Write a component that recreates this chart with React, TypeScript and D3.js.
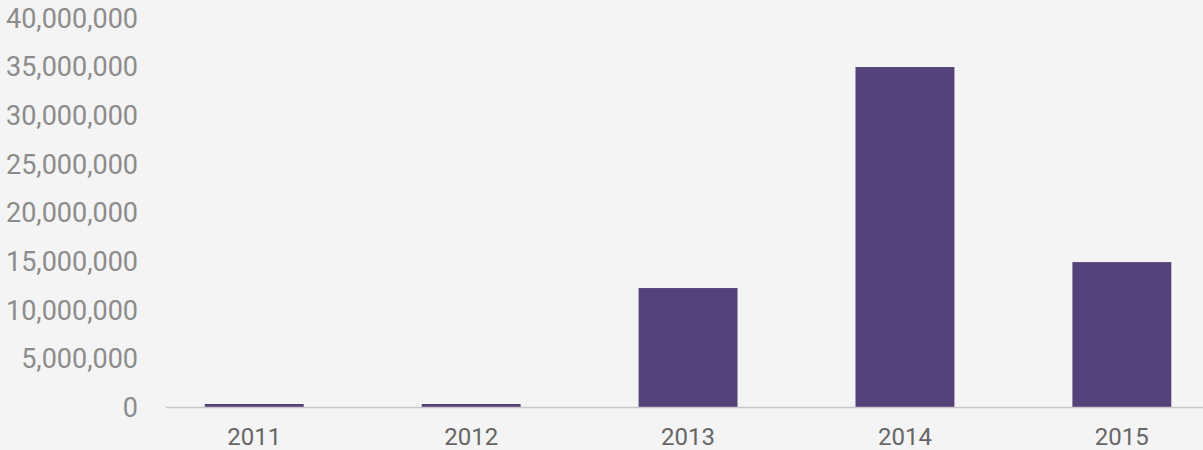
import { useRef, useEffect } from 'react';
import * as d3 from 'd3';

const years = ['2011', '2012', '2013', '2014', '2015'];
const values = [360000, 360000, 12280000, 35000000, 14950000];
const yTicks = [0, 5000000, 10000000, 15000000, 20000000, 25000000, 30000000, 35000000, 40000000];

const width = 1203;
const height = 450;

export default function App() {
  const svgRef = useRef<SVGSVGElement>(null);

  useEffect(() => {
    const svg = d3.select(svgRef.current);
    svg.selectAll('*').remove();

    const baseY = 407.5;
    const topY = 18.4;

    // band step ~217px, bars ~99px wide
    const x = d3.scaleBand<string>().domain(years).range([145.8, 1230.3]).paddingInner(0.544).paddingOuter(0.272);
    const y = d3.scaleLinear().domain([0, 40000000]).range([baseY, topY]);

    svg.append('rect').attr('width', width).attr('height', height).attr('fill', '#f3f4f3');

    // y labels
    svg
      .append('g')
      .selectAll('text')
      .data(yTicks)
      .join('text')
      .attr('x', 138)
      .attr('y', (d) => y(d))
      .attr('dy', '0.35em')
      .attr('text-anchor', 'end')
      .attr('fill', '#8c8c8c')
      .attr('font-size', '27px')
      .attr('font-family', 'Roboto, sans-serif')
      .text((d) => d3.format(',')(d));

    // bars
    svg
      .append('g')
      .selectAll('rect')
      .data(values)
      .join('rect')
      .attr('x', (_, i) => x(years[i])!)
      .attr('width', x.bandwidth())
      .attr('y', (d) => y(d))
      .attr('height', (d) => baseY - y(d))
      .attr('fill', '#55427a');

    // baseline
    svg
      .append('line')
      .attr('x1', 166)
      .attr('x2', width)
      .attr('y1', baseY)
      .attr('y2', baseY)
      .attr('stroke', '#c8c8c8')
      .attr('stroke-width', 1.5);

    // x labels
    svg
      .append('g')
      .selectAll('text')
      .data(years)
      .join('text')
      .attr('x', (d) => x(d)! + x.bandwidth() / 2)
      .attr('y', 437)
      .attr('dy', '0.35em')
      .attr('text-anchor', 'middle')
      .attr('fill', '#666666')
      .attr('font-size', '24px')
      .attr('font-family', 'Roboto, sans-serif')
      .text((d) => d);
  }, []);

  return (
    <svg
      ref={svgRef}
      width={width}
      height={height}
      viewBox={`0 0 ${width} ${height}`}
      style={{ position: 'absolute', left: 0, top: 0, display: 'block' }}
    />
  );
}
